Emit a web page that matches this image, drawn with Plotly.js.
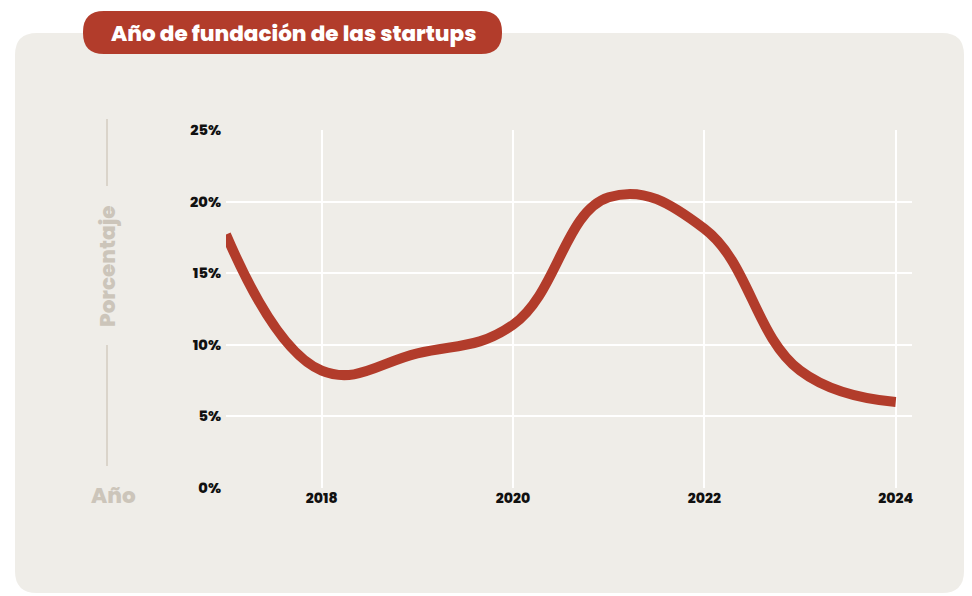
<!DOCTYPE html>
<html><head><meta charset="utf-8">
<script src="https://cdn.plot.ly/plotly-3.0.1.min.js"></script>
<style>html,body{margin:0;padding:0;background:#fff;}#c{width:972px;height:596px;}</style>
</head><body><div id="c"></div>
<script>
const years = [2017, 2018, 2019, 2020, 2021, 2022, 2023, 2024];
const percentages = [17.7, 8.2, 9.4, 11.4, 20.3, 18.1, 8.2, 6.0];
const yTickVals = [0, 5, 10, 15, 20, 25];
const yTickText = ['0%', '5%', '10%', '15%', '20%', '25%'];
const xTickVals = [2018, 2020, 2022, 2024];
const chartTitle = 'Año de fundación de las startups';
const yLabel = 'Porcentaje';
const xLabel = 'Año';

const W = 972, H = 596;
const L = 226, R = 912, T = 130, B = 488;
const px = x => (x - L) / (R - L);
const py = y => (B - y) / (B - T);

function roundRect(x0, y0, x1, y1, r) {
  const X = v => px(v), Y = v => py(v);
  return `M${X(x0 + r)},${Y(y0)} L${X(x1 - r)},${Y(y0)} Q${X(x1)},${Y(y0)} ${X(x1)},${Y(y0 + r)} ` +
    `L${X(x1)},${Y(y1 - r)} Q${X(x1)},${Y(y1)} ${X(x1 - r)},${Y(y1)} ` +
    `L${X(x0 + r)},${Y(y1)} Q${X(x0)},${Y(y1)} ${X(x0)},${Y(y1 - r)} ` +
    `L${X(x0)},${Y(y0 + r)} Q${X(x0)},${Y(y0)} ${X(x0 + r)},${Y(y0)} Z`;
}

const red = '#B23C2B';
const beige = '#EFEDE8';
const muted = '#CCC5BA';
const fontFam = 'Poppins, Inter, "Noto Sans", sans-serif';

const trace = {
  x: years, y: percentages, type: 'scatter', mode: 'lines',
  line: {color: red, width: 10, shape: 'spline', smoothing: 1.2},
  hoverinfo: 'skip'
};

const layout = {
  width: W, height: H,
  margin: {l: L, r: W - R, t: T, b: H - B, pad: 0},
  paper_bgcolor: '#ffffff',
  plot_bgcolor: 'rgba(0,0,0,0)',
  showlegend: false,
  xaxis: {
    range: [2017, 2024.17], tickvals: xTickVals, ticktext: xTickVals.map(String),
    showgrid: true, gridcolor: '#ffffff', gridwidth: 2, zeroline: false, showline: false,
    ticks: '', ticklen: 0,
    tickfont: {family: fontFam, size: 14, color: '#111', weight: 800},
    fixedrange: true
  },
  yaxis: {
    range: [0, 25], tickvals: yTickVals, ticktext: yTickText,
    showgrid: true, gridcolor: '#ffffff', gridwidth: 2, zeroline: false, showline: false,
    ticks: '', ticklabelstandoff: 4,
    tickfont: {family: fontFam, size: 14.5, color: '#111', weight: 800},
    fixedrange: true
  },
  shapes: [
    {type: 'path', xref: 'paper', yref: 'paper', layer: 'below',
     path: roundRect(15, 33, 964, 593, 22), fillcolor: beige, line: {width: 0}},
    {type: 'path', xref: 'paper', yref: 'paper', layer: 'above',
     path: roundRect(83, 11, 502, 54, 21), fillcolor: red, line: {width: 0}},
    {type: 'line', xref: 'paper', yref: 'paper', layer: 'below',
     x0: px(107), x1: px(107), y0: py(119), y1: py(186), line: {color: '#DAD4CA', width: 2}},
    {type: 'line', xref: 'paper', yref: 'paper', layer: 'below',
     x0: px(107), x1: px(107), y0: py(345), y1: py(466), line: {color: '#DAD4CA', width: 2}}
  ],
  annotations: [
    {text: chartTitle, xref: 'paper', yref: 'paper', x: px(293), y: py(33),
     xanchor: 'center', yanchor: 'middle', showarrow: false,
     font: {family: fontFam, size: 21.5, color: '#ffffff', weight: 800}},
    {text: yLabel, xref: 'paper', yref: 'paper', x: px(107), y: py(266), textangle: -90,
     xanchor: 'center', yanchor: 'middle', showarrow: false,
     font: {family: fontFam, size: 21.5, color: muted, weight: 800}},
    {text: xLabel, xref: 'paper', yref: 'paper', x: px(113), y: py(495),
     xanchor: 'center', yanchor: 'middle', showarrow: false,
     font: {family: fontFam, size: 21.5, color: muted, weight: 800}}
  ]
};

Plotly.newPlot('c', [trace], layout, {displayModeBar: false, staticPlot: true});
</script></body></html>
